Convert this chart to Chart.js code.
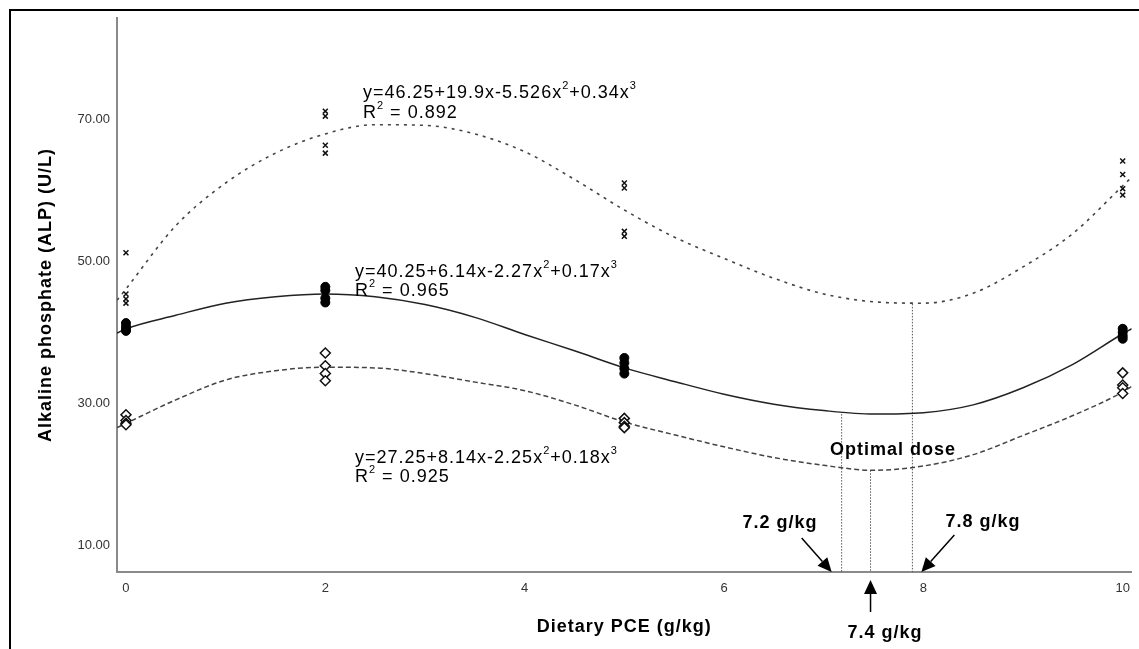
<!DOCTYPE html>
<html>
<head>
<meta charset="utf-8">
<script src="https://cdn.jsdelivr.net/npm/chart.js@4/dist/chart.umd.min.js"></script>
<style>
html,body{margin:0;padding:0;background:#fff;}
#wrap{width:1139px;height:649px;position:relative;}
</style>
</head>
<body>
<div id="wrap"><canvas id="c" width="1139" height="649"></canvas></div>
<script>
// ---- data ----
const xTicks = [0, 2, 4, 6, 8, 10];
const yTicks = [10, 30, 50, 70];

// observed points (x = dietary PCE g/kg)
const crossX = [0,0,0,0, 2,2,2,2, 5,5,5,5, 10,10,10,10];
const crossY = [51.2,45.4,44.7,44.1, 71.1,70.4,66.3,65.2, 61.0,60.3,54.2,53.5, 64.1,62.2,60.2,59.3];
const circleX = [0,0,0,0, 2,2,2,2, 5,5,5,5, 10,10,10,10];
const circleY = [41.3,40.8,40.4,40.2, 46.4,45.9,44.8,44.2, 36.4,35.7,34.9,34.2, 40.5,40.0,39.5,39.1];
const diamondX = [0,0,0,0, 2,2,2,2, 5,5,5,5, 10,10,10,10];
const diamondY = [28.4,27.6,27.2,27.0, 37.1,35.3,34.2,33.2, 27.9,27.3,26.8,26.6, 34.3,32.6,32.2,31.4];

// fitted curves
const curveX   = [-0.09,0,0.5,1,1.5,2,2.5,3,3.5,4,4.5,5,5.5,6,6.5,7,7.5,8,8.5,9,9.5,10,10.09];
const upperY   = [44.5,46.1,55.0,61.0,65.2,67.9,69.2,69.1,67.9,65.4,61.5,57.2,53.4,50.4,47.6,45.4,44.3,44.1,45.5,49.2,53.9,60.6,61.8];
const middleY  = [39.9,40.5,42.4,44.1,45.0,45.4,45.0,43.9,42.1,39.7,37.4,35.0,33.1,31.3,29.9,29.0,28.5,28.7,29.8,32.2,35.5,39.8,40.5];
const lowerY   = [26.6,27.2,30.5,33.3,34.6,35.1,35.0,34.2,33.0,31.8,29.8,27.4,25.6,23.9,22.4,21.3,20.6,21.2,22.8,25.5,28.3,31.6,32.4];

// optimal-dose drop lines
const optX   = [7.18, 7.47, 7.89];
const optTop = [28.5, 20.6, 44.0];
const arrowTipX = [7.08, 7.47, 7.98];
const arrowLabels = ['7.2 g/kg', '7.4 g/kg', '7.8 g/kg'];

const yMin = 6.3, yMax = 84.2, xMin = -0.09, xMax = 10.09;

function pts(xs, ys){ return xs.map((x,i)=>({x:x, y:ys[i]})); }

const datasets = [
  {label:'ALP cross', data: pts(crossX, crossY), pointStyle:'crossRot', pointRadius:3.5, borderColor:'#111', backgroundColor:'#111', borderWidth:1.5, showLine:false},
  {label:'ALP circle', data: pts(circleX, circleY), pointStyle:'circle', pointRadius:4.5, borderColor:'#000', backgroundColor:'#000', borderWidth:1, showLine:false},
  {label:'ALP diamond', data: pts(diamondX, diamondY), pointStyle:'rectRot', pointRadius:5, borderColor:'#111', backgroundColor:'#fff', borderWidth:1.5, showLine:false},
  {label:'fit upper', data: pts(curveX, upperY), showLine:true, pointRadius:0, borderColor:'#444', borderWidth:1.6, borderDash:[3,5], cubicInterpolationMode:'monotone', fill:false},
  {label:'fit middle', data: pts(curveX, middleY), showLine:true, pointRadius:0, borderColor:'#222', borderWidth:1.5, cubicInterpolationMode:'monotone', fill:false},
  {label:'fit lower', data: pts(curveX, lowerY), showLine:true, pointRadius:0, borderColor:'#444', borderWidth:1.5, borderDash:[5,3], cubicInterpolationMode:'monotone', fill:false}
];
optX.forEach((x,i)=>{
  datasets.push({label:'opt'+i, data:[{x:x,y:optTop[i]},{x:x,y:yMin}], showLine:true, pointRadius:0, borderColor:'#555', borderWidth:1, borderDash:[1.5,1.5]});
});

function drawRich(ctx, x, y, parts, size){
  let cx = x;
  parts.forEach(p=>{
    if (p[1]) {
      ctx.font = Math.round(size*0.62) + 'px "Liberation Sans", Arial, sans-serif';
      ctx.fillText(p[0], cx, y - size*0.38);
    } else {
      ctx.font = size + 'px "Liberation Sans", Arial, sans-serif';
      ctx.fillText(p[0], cx, y);
    }
    cx += ctx.measureText(p[0]).width;
  });
}

function arrow(ctx, x1, y1, x2, y2){
  const ang = Math.atan2(y2-y1, x2-x1);
  const L = 14, W = 6.5;
  const bx = x2 - L*Math.cos(ang), by = y2 - L*Math.sin(ang);
  ctx.beginPath(); ctx.moveTo(x1,y1); ctx.lineTo(bx,by); ctx.lineWidth=1.5; ctx.strokeStyle='#000'; ctx.stroke();
  ctx.beginPath();
  ctx.moveTo(x2,y2);
  ctx.lineTo(bx + W*Math.sin(ang), by - W*Math.cos(ang));
  ctx.lineTo(bx - W*Math.sin(ang), by + W*Math.cos(ang));
  ctx.closePath(); ctx.fillStyle='#000'; ctx.fill();
}

const annot = {
  id:'annot',
  beforeDraw(chart){
    const ctx = chart.ctx;
    ctx.save();
    ctx.fillStyle='#fff'; ctx.fillRect(0,0,chart.width,chart.height);
    ctx.restore();
  },
  afterDraw(chart){
    const ctx = chart.ctx, xs = chart.scales.x, ys = chart.scales.y, ca = chart.chartArea;
    ctx.save();
    // frame
    ctx.strokeStyle='#000'; ctx.lineWidth=2;
    ctx.beginPath(); ctx.moveTo(10, chart.height); ctx.lineTo(10,10); ctx.lineTo(chart.width,10); ctx.stroke();

    ctx.fillStyle='#000';
    ctx.textBaseline='middle'; ctx.textAlign='left';
    try { ctx.letterSpacing = '1px'; } catch(e){}
    drawRich(ctx, 363, 93, [['y=46.25+19.9x-5.526x',0],['2',1],['+0.34x',0],['3',1]], 18);
    drawRich(ctx, 363, 113, [['R',0],['2',1],[' = 0.892',0]], 18);
    drawRich(ctx, 355, 272, [['y=40.25+6.14x-2.27x',0],['2',1],['+0.17x',0],['3',1]], 18);
    drawRich(ctx, 355, 291, [['R',0],['2',1],[' = 0.965',0]], 18);
    drawRich(ctx, 355, 458, [['y=27.25+8.14x-2.25x',0],['2',1],['+0.18x',0],['3',1]], 18);
    drawRich(ctx, 355, 477, [['R',0],['2',1],[' = 0.925',0]], 18);

    // bold labels
    ctx.font = 'bold 18px "Liberation Sans", Arial, sans-serif';
    ctx.textAlign='center';
    ctx.fillText('Optimal dose', 893, 450);
    ctx.fillText(arrowLabels[0], 780, 523);
    ctx.fillText(arrowLabels[2], 983, 522);
    ctx.fillText(arrowLabels[1], 885, 633);

    // axis titles
    ctx.fillText('Dietary PCE (g/kg)', (ca.left+ca.right)/2, 627);
    ctx.save();
    ctx.translate(46, (ca.top+ca.bottom)/2);
    ctx.rotate(-Math.PI/2);
    ctx.fillText('Alkaline phosphate (ALP) (U/L)', 0, 0);
    ctx.restore();
    try { ctx.letterSpacing = '0px'; } catch(e){}

    // arrows
    const b = ys.getPixelForValue(yMin);
    const t0 = xs.getPixelForValue(arrowTipX[0]);
    const t1 = xs.getPixelForValue(arrowTipX[1]);
    const t2 = xs.getPixelForValue(arrowTipX[2]);
    arrow(ctx, t0-30, b-34, t0, b);
    arrow(ctx, t1, b+40, t1, b+8);
    arrow(ctx, t2+33, b-37, t2, b);
    ctx.restore();
  }
};

new Chart(document.getElementById('c'), {
  type:'scatter',
  data:{datasets},
  plugins:[annot],
  options:{
    responsive:false,
    animation:false,
    events:[],
    layout:{padding:{left:0, right:7, top:18, bottom:0}},
    plugins:{legend:{display:false}, tooltip:{enabled:false}},
    scales:{
      x:{
        type:'linear', min:xMin, max:xMax,
        afterBuildTicks(s){ s.ticks = xTicks.map(v=>({value:v})); },
        afterFit(s){ s.height = 77; },
        grid:{display:false, drawTicks:false},
        border:{display:true, color:'#8a8a8a', width:2},
        ticks:{padding:9, color:'#333', font:{family:'"Liberation Sans", Arial, sans-serif', size:13}, maxRotation:0, callback:v=>String(v)}
      },
      y:{
        type:'linear', min:yMin, max:yMax,
        afterBuildTicks(s){ s.ticks = yTicks.map(v=>({value:v})); },
        afterFit(s){ s.width = 117; },
        grid:{display:false, drawTicks:false},
        border:{display:true, color:'#8a8a8a', width:2},
        ticks:{padding:7, color:'#333', font:{family:'"Liberation Sans", Arial, sans-serif', size:13}, callback:v=>Number(v).toFixed(2)}
      }
    }
  }
});
</script>
</body>
</html>
